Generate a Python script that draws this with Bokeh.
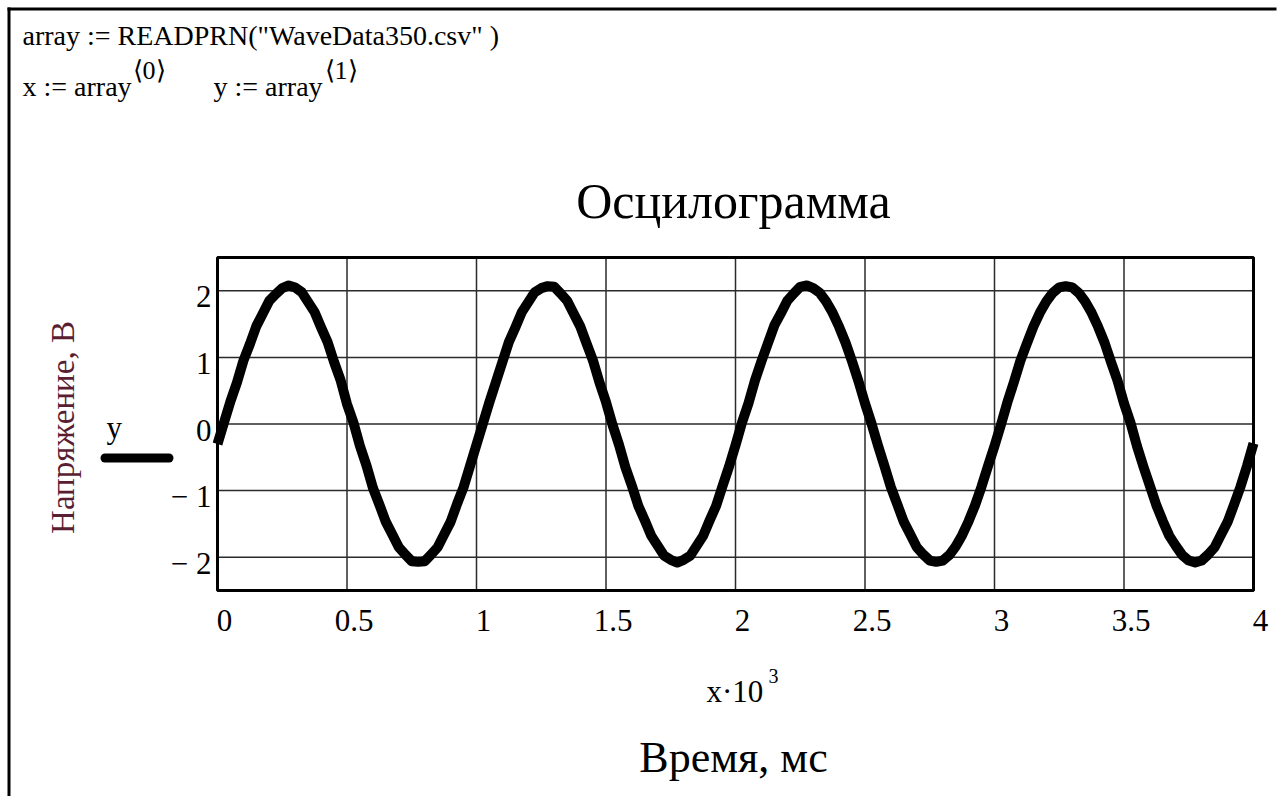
import math
import numpy as np
from bokeh.plotting import figure
from bokeh.models import Range1d, FixedTicker, Label, LinearAxis
from bokeh.embed import file_html
from bokeh.resources import INLINE

# Oscillogram samples: time in seconds (25 us step), voltage in volts
y = [
    -0.30, 0.02, 0.34, 0.62, 0.95, 1.20, 1.47, 1.66, 1.85, 1.95,
    2.04, 2.08, 2.05, 1.98, 1.83, 1.68, 1.45, 1.23, 0.93, 0.66,
    0.30, 0.02, -0.33, -0.62, -0.96, -1.21, -1.47, -1.66, -1.85, -1.96,
    -2.06, -2.07, -2.06, -1.96, -1.85, -1.66, -1.47, -1.20, -0.95, -0.63,
    -0.31,
    0.01, 0.33, 0.63, 0.93, 1.23, 1.45, 1.68, 1.83, 1.98, 2.04,
    2.07, 2.06, 1.96, 1.85, 1.66, 1.47, 1.21, 0.95, 0.62, 0.33,
    -0.01, -0.31, -0.65, -0.93, -1.23, -1.45, -1.68, -1.83, -1.98, -2.04,
    -2.08, -2.04, -1.98, -1.83, -1.68, -1.45, -1.23, -0.93, -0.64, -0.32,
    0.02, 0.31, 0.65, 0.94, 1.21, 1.48, 1.66, 1.85, 1.96, 2.06,
    2.08, 2.04, 1.97, 1.84, 1.67, 1.46, 1.22, 0.94, 0.64, 0.31,
    0.01, -0.32, -0.63, -0.95, -1.21, -1.47, -1.66, -1.85, -1.96, -2.05,
    -2.07, -2.05, -1.97, -1.84, -1.67, -1.46, -1.22, -0.94, -0.63, -0.33,
    -0.01, 0.33, 0.63, 0.95, 1.21, 1.46, 1.67, 1.84, 1.97, 2.05,
    2.07, 2.05, 1.97, 1.84, 1.67, 1.46, 1.22, 0.93, 0.65, 0.31,
    0.02, -0.33, -0.64, -0.93, -1.22, -1.46, -1.68, -1.83, -1.97, -2.05,
    -2.08, -2.05, -1.96, -1.85, -1.66, -1.47, -1.21, -0.94, -0.63, -0.29,
]
x = np.linspace(0.0, 0.004, len(y))

x_ticks = [0, 0.5, 1, 1.5, 2, 2.5, 3, 3.5, 4]
x_tick_labels = ["0", "0.5", "1", "1.5", "2", "2.5", "3", "3.5", "4"]
y_ticks = [-2, -1, 0, 1, 2]
y_tick_labels = ["\u2212 2", "\u2212 1", "0", "1", "2"]

title_text = "Осцилограмма"
x_title = "Время, мс"
y_title = "Напряжение, В"

SERIF = "Liberation Serif"
W, H = 1288, 796
RM = 12                                # blank strip kept at the right edge
FL, FR, FT, FB = 217, 1253, 257, 590   # plot box edges in page pixels
X0, X1, Y0, Y1 = 0.0, 4.0, -2.5, 2.5   # plot box limits in data units

SX = (X1 - X0) / (FR - FL)
SY = (Y1 - Y0) / (FB - FT)


def px(u):
    return X0 + (u - FL) * SX


def py(v):
    return Y1 - (v - FT) * SY


# the drawing area spans the page; the plot box sits inside it
p = figure(width=W, height=H, output_backend="svg", toolbar_location=None,
           x_range=Range1d(px(0), px(W - RM)), y_range=Range1d(py(H), py(0)),
           x_axis_type=None, y_axis_type=None,
           min_border=0, min_border_left=0, min_border_right=RM,
           min_border_top=0, min_border_bottom=0)
p.title.visible = False
p.background_fill_color = "white"
p.border_fill_color = "white"
p.outline_line_color = None
p.xgrid.visible = False
p.ygrid.visible = False

# tick labels sit slightly right of / below their grid lines
p.extra_x_ranges = {"xlab": Range1d(px(-7), px(W - RM - 7))}
p.extra_y_ranges = {"ylab": Range1d(py(H - 6), py(-6))}

xaxis = LinearAxis(fixed_location=Y0, x_range_name="xlab",
                   ticker=FixedTicker(ticks=x_ticks),
                   major_label_overrides=dict(zip(x_ticks, x_tick_labels)),
                   major_label_standoff=19)
yaxis = LinearAxis(fixed_location=X0, y_range_name="ylab",
                   ticker=FixedTicker(ticks=y_ticks),
                   major_label_overrides=dict(zip(y_ticks, y_tick_labels)),
                   major_label_standoff=6)
for ax in (xaxis, yaxis):
    ax.axis_line_color = None
    ax.major_tick_line_color = None
    ax.minor_tick_line_color = None
    ax.major_tick_out = 0
    ax.major_tick_in = 0
    ax.major_label_text_font = SERIF
    ax.major_label_text_font_size = "31px"
    ax.major_label_text_color = "black"
p.add_layout(xaxis, "below")
p.add_layout(yaxis, "left")

# grid lines at the tick positions
p.segment(x0=x_ticks, y0=[Y0] * len(x_ticks), x1=x_ticks, y1=[Y1] * len(x_ticks),
          line_color="#2b2b2b", line_width=1.5)
p.segment(x0=[X0] * len(y_ticks), y0=y_ticks, x1=[X1] * len(y_ticks), y1=y_ticks,
          line_color="#2b2b2b", line_width=1.5)

# the waveform, time shown as x·10^3
p.line(x * 1e3, y, line_width=10, line_color="black", line_join="round")

# plot box border
p.quad(left=[X0], right=[X1], bottom=[Y0], top=[Y1],
       fill_color=None, line_color="black", line_width=3)

# worksheet frame (top and left edges)
p.quad(left=[px(7), px(7)], right=[px(W), px(10)],
       top=[py(7), py(7)], bottom=[py(10), py(H)],
       fill_color="black", line_color=None)


def lab(text, u, v, size, align="left", color="black", angle=0):
    p.add_layout(Label(x=px(u), y=py(v), text=text, text_font=SERIF,
                       text_font_size=size, text_color=color, text_align=align,
                       text_baseline="middle", angle=angle))


# worksheet expressions
lab('array := READPRN("WaveData350.csv" )', 22, 35, "28px")
lab("x := array", 22, 86, "28px")
lab("\u27e80\u27e9", 132, 70, "26px")
lab("y := array", 213, 86, "28px")
lab("\u27e81\u27e9", 324, 70, "26px")

# titles
lab(title_text, 733, 200, "50px", align="center")
lab("x\u00b710", 706, 691, "31px")
lab("3", 768, 675, "20px")
lab(x_title, 733, 757, "44px", align="center")
lab(y_title, 62, 427, "33px", align="center", color="#5a1e32", angle=math.pi / 2)

# legend entry
lab("y", 106, 427, "31px")
p.segment(x0=[px(104.5)], y0=[py(457.5)], x1=[px(168.5)], y1=[py(457.5)],
          line_color="black", line_width=9, line_cap="round")

html = file_html(p, INLINE)
# page without margins or scrollbars
html = html.replace("<head>", "<head><style>html, body { margin: 0; overflow: hidden; }</style>", 1)
open("out.html", "w").write(html)
